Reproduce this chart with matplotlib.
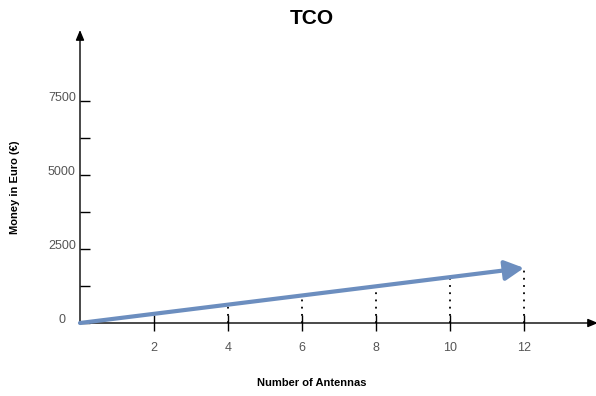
import matplotlib
matplotlib.use("Agg")
import matplotlib.pyplot as plt

plt.rcParams['font.family'] = ['Liberation Sans', 'DejaVu Sans']

antennas = [0, 2, 4, 6, 8, 10, 12]
tco = [0, 310, 620, 930, 1240, 1550, 1860]
xticks = [2, 4, 6, 8, 10, 12]
yticks_major = [0, 2500, 5000, 7500]
yticks_minor = [1250, 3750, 6250]

W, H = 596, 396
fig = plt.figure(figsize=(W / 100, H / 100), dpi=100)
x0, x1 = 80, 598
y0, y1 = 323, 30
ax = fig.add_axes([x0 / W, (H - y0) / H, (x1 - x0) / W, (y0 - y1) / H])
ax.set_xlim(0, 14)
ax.set_ylim(0, 9900)
for s in ax.spines.values():
    s.set_visible(False)
ax.patch.set_visible(False)

# axes with arrows
ax.annotate('', xy=(1.0, 0), xycoords='axes fraction', xytext=(0, 0),
            arrowprops=dict(arrowstyle='-|>,head_length=0.6,head_width=0.25', color='black', lw=1,
                            shrinkA=0, shrinkB=0))
ax.annotate('', xy=(0, 1.0), xycoords='axes fraction', xytext=(0, 0),
            arrowprops=dict(arrowstyle='-|>,head_length=0.6,head_width=0.25', color='black', lw=1,
                            shrinkA=0, shrinkB=0))

# ticks
ax.set_xticks(xticks)
ax.set_xticklabels([str(v) for v in xticks])
ax.tick_params(axis='x', direction='inout', length=11, width=1, pad=8, labelsize=9, labelcolor='#555555')
ax.set_yticks(yticks_major)
ax.set_yticklabels([str(v) for v in yticks_major])
ax.set_yticks(yticks_minor, minor=True)
ax.tick_params(axis='y', which='both', direction='in', length=7.5, width=1, pad=13, labelsize=9,
               labelcolor='#555555')
for lab in ax.get_yticklabels():
    lab.set_ha('center')
    lab.set_va('baseline')

# dotted guides
ax.vlines(antennas[2:], 0, tco[2:], colors='black', linestyles=(0, (1, 3)), lw=1.3)

# TCO arrow
ax.annotate('', xy=(antennas[-1], tco[-1]), xytext=(antennas[0], tco[0]),
            arrowprops=dict(arrowstyle='-|>,head_length=1.15,head_width=0.6', color='#6c8ebf',
                            lw=3, shrinkA=0, shrinkB=0))

fig.text(312 / W, 1 - 18 / H, 'TCO', ha='center', va='center', fontsize=15, fontweight='bold')
fig.text(312 / W, 1 - 383 / H, 'Number of Antennas', ha='center', va='center', fontsize=8, fontweight='bold')
fig.text(15 / W, 1 - 187 / H, 'Money in Euro (€)', ha='center', va='center', rotation=90,
         fontsize=8, fontweight='bold')

fig.savefig('out.png', dpi=100)
